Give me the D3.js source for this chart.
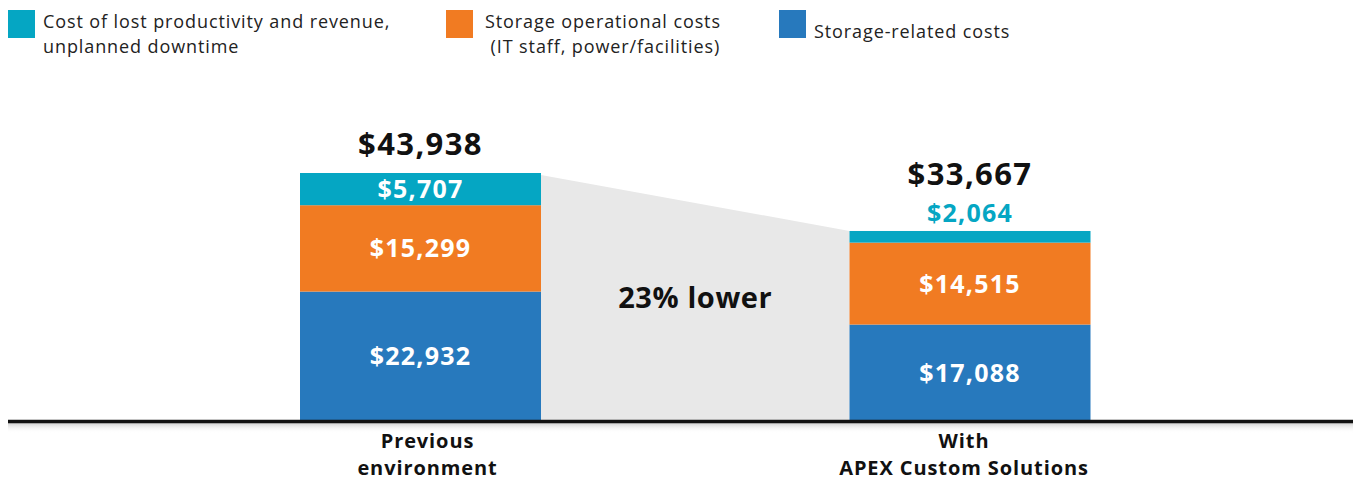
<!DOCTYPE html>
<html>
<head>
<meta charset="utf-8">
<script src="https://cdn.jsdelivr.net/npm/d3@7"></script>
<style>
  body { margin: 0; background: #fff; }
  svg { display: block; font-family: "Open Sans", "DejaVu Sans", sans-serif; }
</style>
</head>
<body>
<div id="chart"></div>
<script>
// chart data
const categories = [["Previous", "environment"], ["With", "APEX Custom Solutions"]];
const categoryKeys = ["prev", "apex"];
const seriesNames = ["related", "operational", "lost"];
const storageRelated = [22932, 17088];
const storageOperational = [15299, 14515];
const lostProductivity = [5707, 2064];
const totals = [43938, 33667];
const reductionLabel = "23% lower";
const legendLabels = [
    ["Cost of lost productivity and revenue,", "unplanned downtime"],
    ["Storage operational costs", " (IT staff, power/facilities)"],
    ["Storage-related costs"]
];

const iWidth = 1353, iHeight = 480;
const oColor = { related: "#2779bd", operational: "#f17b22", lost: "#05a6c3" };
const iBaseY = 421;
const iBarWidth = 241;

const d3Svg = d3.select("#chart").append("svg")
    .attr("width", iWidth)
    .attr("height", iHeight);

// rows for the stack
const aRows = categoryKeys.map((k, i) => ({
    key: k,
    related: storageRelated[i],
    operational: storageOperational[i],
    lost: lostProductivity[i],
    total: totals[i]
}));
const aStack = d3.stack().keys(seriesNames)(aRows);

const d3X = d3.scalePoint().domain(categoryKeys).range([420.5, 970]);
const d3Y = d3.scaleLinear().domain([0, d3.max(totals)]).range([iBaseY, 173]);

// gray connector between the two bars
const aTop = aRows.map(r => d3Y(r.total));
const xR0 = d3X(categoryKeys[0]) + iBarWidth / 2;
const xL1 = d3X(categoryKeys[1]) - iBarWidth / 2;
d3Svg.append("path")
    .attr("d", `M${xR0},${aTop[0] + 2} L${xL1},${aTop[1]} L${xL1},${iBaseY} L${xR0},${iBaseY} Z`)
    .attr("fill", "#e8e8e8");

d3Svg.append("text")
    .attr("x", (xR0 + xL1) / 2)
    .attr("y", 308)
    .attr("text-anchor", "middle")
    .attr("font-size", "29px")
    .attr("font-weight", "bold")
    .attr("letter-spacing", "0.6px")
    .attr("fill", "#111")
    .text(reductionLabel);

// bars
const gBars = d3Svg.append("g");
aStack.forEach(oLayer => {
    gBars.selectAll(null).data(oLayer).enter()
        .append("rect")
        .attr("x", d => d3X(d.data.key) - iBarWidth / 2)
        .attr("y", d => d3Y(d[1]))
        .attr("width", iBarWidth)
        .attr("height", d => d3Y(d[0]) - d3Y(d[1]))
        .attr("fill", oColor[oLayer.key]);
});

// segment labels
const fmt = v => "$" + d3.format(",")(v);
const aOutside = [false, false];
aStack.forEach(oLayer => {
    oLayer.forEach((d, i) => {
        const h = d3Y(d[0]) - d3Y(d[1]);
        const v = d[1] - d[0];
        const t = d3Svg.append("text")
            .attr("x", d3X(d.data.key))
            .attr("text-anchor", "middle")
            .attr("font-size", "25px")
            .attr("font-weight", "bold")
            .attr("letter-spacing", "1.2px")
            .text(fmt(v));
        if (h >= 28) {
            t.attr("y", (d3Y(d[0]) + d3Y(d[1])) / 2 + 9).attr("fill", "#fff");
        } else {
            aOutside[i] = true;
            t.attr("y", d3Y(d[1]) - 9).attr("fill", oColor[oLayer.key]);
        }
    });
});

// totals
d3Svg.selectAll(".total").data(aRows).enter()
    .append("text")
    .attr("class", "total")
    .attr("x", d => d3X(d.key))
    .attr("y", (d, i) => d3Y(d.total) - (aOutside[i] ? 46 : 18))
    .attr("text-anchor", "middle")
    .attr("font-size", "31px")
    .attr("font-weight", "bold")
    .attr("letter-spacing", "1.4px")
    .attr("fill", "#111")
    .text(d => fmt(d.total));

// baseline with soft shadow
const oDefs = d3Svg.append("defs");
const oGrad = oDefs.append("linearGradient").attr("id", "shade")
    .attr("x1", 0).attr("y1", 0).attr("x2", 0).attr("y2", 1);
oGrad.append("stop").attr("offset", "0%").attr("stop-color", "#bbb").attr("stop-opacity", 0.7);
oGrad.append("stop").attr("offset", "100%").attr("stop-color", "#fff").attr("stop-opacity", 0);
d3Svg.append("rect")
    .attr("x", 8).attr("y", iBaseY + 2)
    .attr("width", iWidth - 8).attr("height", 10)
    .attr("fill", "url(#shade)");
d3Svg.append("line")
    .attr("x1", 8).attr("x2", iWidth)
    .attr("y1", iBaseY + 0.5).attr("y2", iBaseY + 0.5)
    .attr("stroke", "#111")
    .attr("stroke-width", 3.5);

// category labels
categories.forEach((aLines, i) => {
    const xc = d3X(categoryKeys[i]) + (i === 0 ? 7 : -6);
    aLines.forEach((s, j) => {
        d3Svg.append("text")
            .attr("x", xc)
            .attr("y", 448 + j * 27)
            .attr("text-anchor", "middle")
            .attr("font-size", "20px")
            .attr("font-weight", "bold")
            .attr("letter-spacing", "0.9px")
            .attr("fill", "#111")
            .text(s);
    });
});

// legend
const aLegend = [
    { color: oColor.lost, x: 8, tx: 43, ty: 28, lines: legendLabels[0] },
    { color: oColor.operational, x: 446, tx: 485, ty: 28, lines: legendLabels[1] },
    { color: oColor.related, x: 779, tx: 814, ty: 38, lines: legendLabels[2] }
];
aLegend.forEach(o => {
    d3Svg.append("rect")
        .attr("x", o.x).attr("y", 10)
        .attr("width", 27).attr("height", 28)
        .attr("fill", o.color);
    o.lines.forEach((s, j) => {
        d3Svg.append("text")
            .attr("x", o.tx)
            .attr("y", o.ty + j * 24.5)
            .attr("font-size", "18px")
            .attr("letter-spacing", "0.9px")
            .attr("fill", "#222")
            .attr("xml:space", "preserve")
            .style("white-space", "pre")
            .text(s);
    });
});
</script>
</body>
</html>
